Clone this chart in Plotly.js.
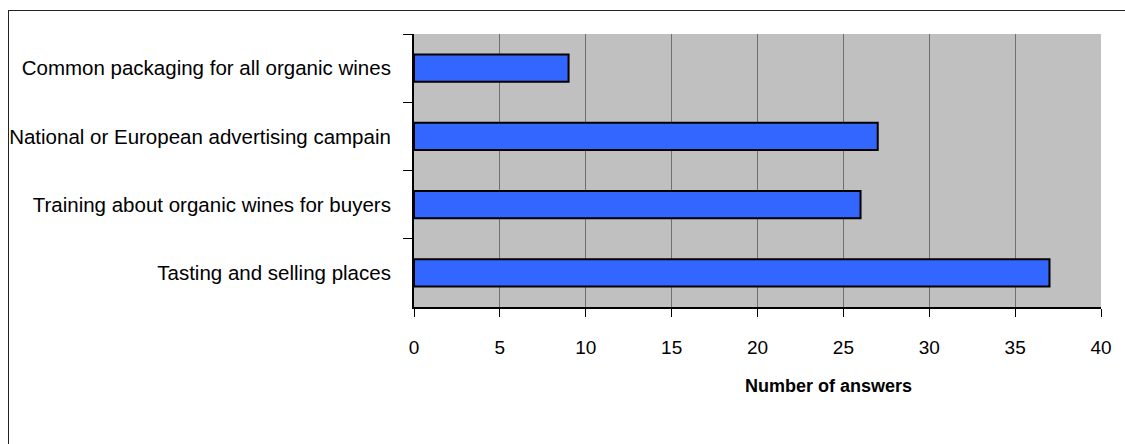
<!DOCTYPE html>
<html>
<head>
<meta charset="utf-8">
<script src="https://cdn.plot.ly/plotly-3.0.1.min.js"></script>
<style>
  html, body { margin: 0; padding: 0; background: #ffffff; overflow: hidden; }
  #chart { width: 1125px; height: 444px; position: relative; }
  #frame {
    position: absolute; left: 8px; top: 10px; width: 1140px; height: 460px;
    border: 1px solid #222; pointer-events: none; box-sizing: border-box;
  }
</style>
</head>
<body>
<div id="chart"></div>
<div id="frame"></div>
<script>
// Measures shown from top to bottom
const categories = [
  "Common packaging for all organic wines",
  "National or European advertising campain",
  "Training about organic wines for buyers",
  "Tasting and selling places"
];
const answers = [9, 27, 26, 37];
const xTicks = [0, 5, 10, 15, 20, 25, 30, 35, 40];
const xTitle = "Number of answers";

const font = "Liberation Sans, Arial, sans-serif";

const trace = {
  type: "bar",
  orientation: "h",
  y: categories,
  x: answers,
  width: 0.4,
  marker: { color: "#3366ff", line: { color: "#000000", width: 2 } },
  hoverinfo: "x+y"
};

const layout = {
  width: 1125,
  height: 444,
  margin: { l: 414, r: 24, t: 34, b: 137, pad: 0 },
  paper_bgcolor: "#ffffff",
  plot_bgcolor: "#c0c0c0",
  showlegend: false,
  font: { family: font, color: "#000000" },
  xaxis: {
    range: [0, 40],
    tickvals: xTicks,
    ticktext: xTicks.map(String),
    ticks: "outside",
    ticklen: 8,
    tickwidth: 1,
    tickcolor: "#000000",
    ticklabelstandoff: 14,
    tickfont: { family: font, size: 19, color: "#000000" },
    showgrid: true,
    gridcolor: "#707070",
    gridwidth: 1,
    zeroline: false,
    showline: true,
    linecolor: "#000000",
    linewidth: 2,
    fixedrange: true
  },
  yaxis: {
    type: "category",
    autorange: "reversed",
    tickson: "boundaries",
    ticks: "outside",
    ticklen: 9,
    tickwidth: 1,
    tickcolor: "#000000",
    ticklabelstandoff: 17,
    tickfont: { family: font, size: 20.5, color: "#000000" },
    showgrid: false,
    zeroline: false,
    showline: true,
    linecolor: "#000000",
    linewidth: 2,
    fixedrange: true
  },
  annotations: [{
    text: "<b>" + xTitle + "</b>",
    xref: "paper", yref: "paper",
    x: 0.604, y: -0.289,
    xanchor: "center", yanchor: "middle",
    showarrow: false,
    font: { family: font, size: 18, color: "#000000" }
  }]
};

Plotly.newPlot("chart", [trace], layout, { displayModeBar: false, staticPlot: true });
</script>
</body>
</html>
